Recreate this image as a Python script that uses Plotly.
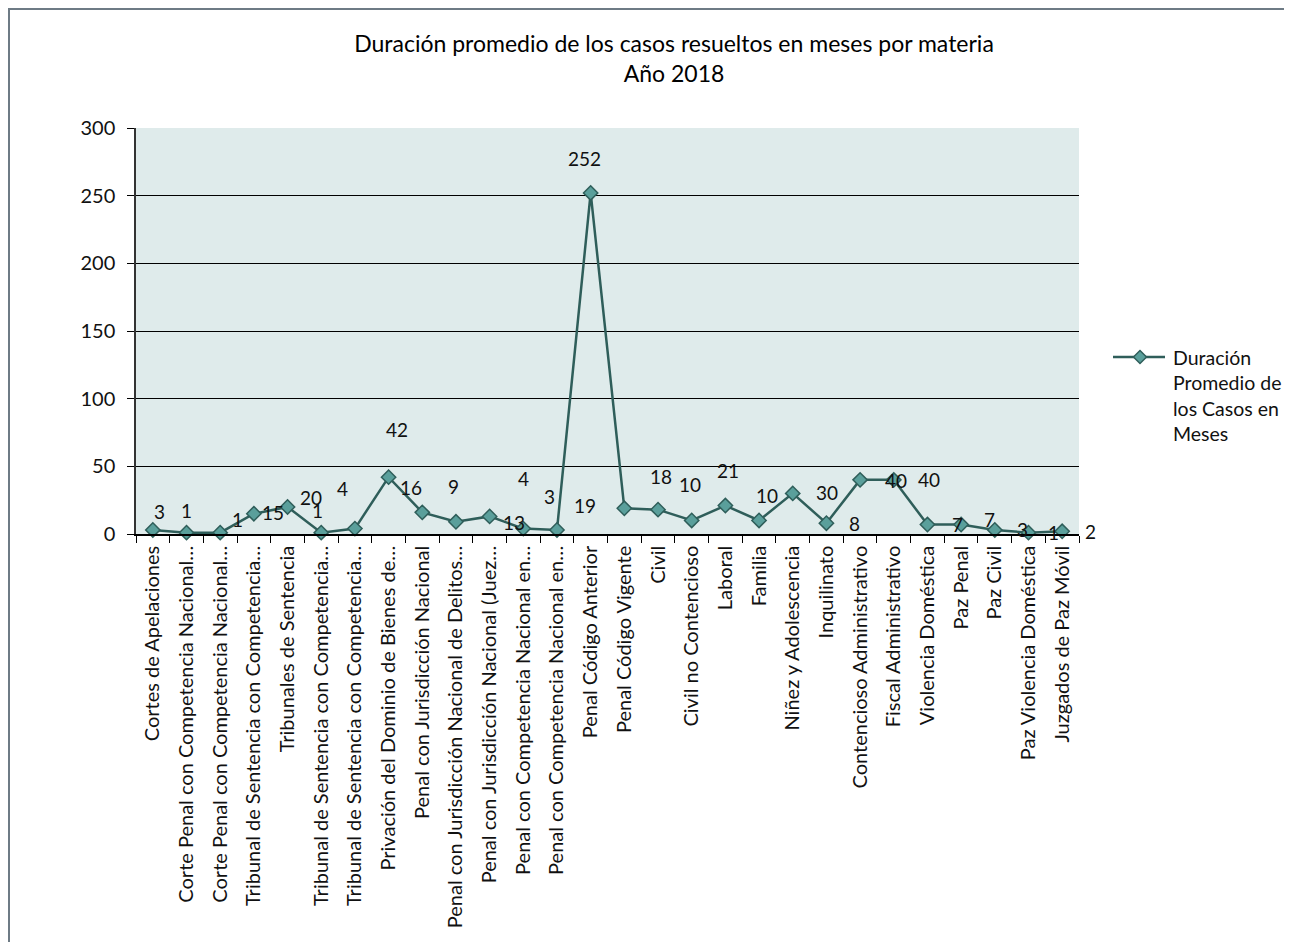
import plotly.graph_objects as go

categories = [
    "Cortes de Apelaciones",
    "Corte Penal con Competencia Nacional…",
    "Corte Penal con Competencia Nacional…",
    "Tribunal de Sentencia con Competencia…",
    "Tribunales de Sentencia",
    "Tribunal de Sentencia con Competencia…",
    "Tribunal de Sentencia con Competencia…",
    "Privación del Dominio de Bienes de…",
    "Penal con Jurisdicción Nacional",
    "Penal con Jurisdicción Nacional de Delitos…",
    "Penal con Jurisdicción Nacional (Juez…",
    "Penal con Competencia Nacional en…",
    "Penal con Competencia Nacional en…",
    "Penal Código Anterior",
    "Penal Código Vigente",
    "Civil",
    "Civil no Contencioso",
    "Laboral",
    "Familia",
    "Niñez y Adolescencia",
    "Inquilinato",
    "Contencioso Administrativo",
    "Fiscal Administrativo",
    "Violencia Doméstica",
    "Paz Penal",
    "Paz Civil",
    "Paz Violencia Doméstica",
    "Juzgados de Paz Móvil",
]

duracion = [3, 1, 1, 15, 20, 1, 4, 42, 16, 9, 13, 4, 3, 252, 19, 18, 10, 21, 10, 30, 8, 40, 40, 7, 7, 3, 1, 2]

y_ticks = [0, 50, 100, 150, 200, 250, 300]

series_name = "Duración<br>Promedio de<br>los Casos en<br>Meses"
title_text = "Duración promedio de los casos resueltos en meses por materia<br>Año 2018"

# label offsets in screen pixels (dx right, dy down) – styling of data labels
label_offsets = [
    (7, -18), (0, -22), (17, -13), (19, -1), (23, -9), (-4, -22), (-12, -40),
    (8, -48), (-11, -25), (-2, -35), (24, 6), (0, -50), (-7, -33), (-6, -34),
    (-39, -3), (3, -33), (-2, -36), (3, -35), (8, -25), (34, -1), (28, 0),
    (36, 1), (35, 0), (30, 0), (28, -5), (28, 0), (25, 0), (28, 0),
]

FONT = "Lato"
LINE_COLOR = "#2F5E5A"
MARKER_COLOR = "#5A9F9B"
# page body has an 8px margin; figure coordinates = page coordinates - 8
W, H = 1284, 934
L, R, T, B = 128, 1071, 120, 526

xs = list(range(len(categories)))

fig = go.Figure()
fig.add_trace(go.Scatter(
    x=xs, y=duracion, mode="lines+markers", name=series_name,
    line=dict(color=LINE_COLOR, width=2.5),
    marker=dict(symbol="diamond", size=11, color=MARKER_COLOR,
                line=dict(color=LINE_COLOR, width=1.5)),
    cliponaxis=False, showlegend=False,
))

for i, v in enumerate(duracion):
    dx, dy = label_offsets[i]
    fig.add_annotation(x=i, y=v, text=str(v), showarrow=False,
                       xshift=dx, yshift=-dy,
                       font=dict(family=FONT, size=19, color="#111111"))

pw = R - L
ph = B - T
def px2x(p):
    return (p - L) / pw
def py2y(p):
    return (B - p) / ph

# chart frame (outline only)
fig.add_shape(type="rect", xref="paper", yref="paper",
              x0=px2x(1), x1=px2x(1279), y0=py2y(960), y1=py2y(1),
              fillcolor="rgba(0,0,0,0)", line=dict(color="#6E7B85", width=2), layer="above")

# legend (drawn manually so it does not push the plot margins)
leg_y = 349
fig.add_shape(type="line", xref="paper", yref="paper",
              x0=px2x(1105), x1=px2x(1157), y0=py2y(leg_y), y1=py2y(leg_y),
              line=dict(color=LINE_COLOR, width=2.5), layer="above")
cx, hw = 1132, 6.5
diamond_path = "M {} {} L {} {} L {} {} L {} {} Z".format(
    px2x(cx - hw), py2y(leg_y), px2x(cx), py2y(leg_y - hw),
    px2x(cx + hw), py2y(leg_y), px2x(cx), py2y(leg_y + hw))
fig.add_shape(type="path", xref="paper", yref="paper", path=diamond_path,
              fillcolor=MARKER_COLOR, line=dict(color=LINE_COLOR, width=1.5), layer="above")
fig.add_annotation(xref="paper", yref="paper", x=px2x(1163), y=py2y(336),
                   xanchor="left", yanchor="top", align="left", showarrow=False,
                   text=series_name,
                   font=dict(family=FONT, size=19.5, color="#111111"))

fig.update_layout(
    width=W, height=H,
    margin=dict(l=L, r=W - R, t=T, b=H - B, pad=0),
    paper_bgcolor="#FFFFFF",
    plot_bgcolor="#DFEBEB",
    font=dict(family=FONT, color="#111111"),
    title=dict(text=title_text, x=px2x(666), xref="paper", xanchor="center",
               y=1 - 44 / H, yanchor="middle",
               font=dict(family=FONT, size=23, color="#000000")),
    showlegend=False,
    xaxis=dict(
        range=[-0.5, len(categories) - 0.5],
        tickmode="array", tickvals=xs, ticktext=categories,
        tickangle=-90, ticks="", showgrid=False, zeroline=False,
        showline=True, linecolor="#000000", linewidth=1.5,
        tickfont=dict(family=FONT, size=20, color="#111111"),
        ticklabelstandoff=2,
        minor=dict(tickmode="array", tickvals=[i - 0.5 for i in range(len(categories) + 1)],
                   ticks="outside", ticklen=7, tickcolor="#000000", tickwidth=1, showgrid=False),
        fixedrange=True,
    ),
    yaxis=dict(
        range=[0, 300], tickmode="array", tickvals=y_ticks,
        ticks="outside", ticklen=7, tickcolor="#000000",
        showgrid=True, gridcolor="#000000", gridwidth=1,
        zeroline=False, showline=True, linecolor="#333333", linewidth=1.5,
        tickfont=dict(family=FONT, size=20, color="#111111"),
        ticklabelstandoff=8,
    ),
)

fig.write_html("out.html")
